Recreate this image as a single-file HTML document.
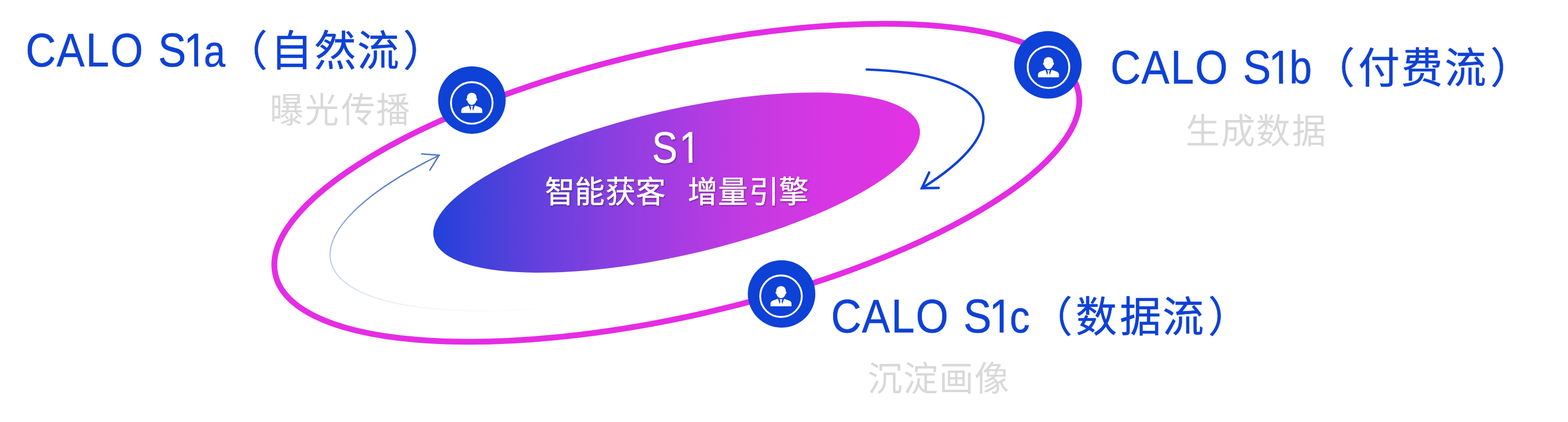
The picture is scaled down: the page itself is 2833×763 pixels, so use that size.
<!DOCTYPE html>
<html lang="zh-CN">
<head>
<meta charset="utf-8">
<title>CALO S1 智能获客 增量引擎</title>
<style>
html,body{margin:0;padding:0;background:#fff;}
body{width:2833px;height:763px;overflow:hidden;}
svg{display:block;}
text{font-family:"Liberation Sans", "Noto Sans CJK SC", sans-serif;white-space:pre;}
</style>
</head>
<body>
<svg width="2833" height="763" viewBox="0 0 2833 763">
<defs>
<linearGradient id="g1" gradientUnits="userSpaceOnUse" x1="783" y1="0" x2="1661" y2="0">
<stop offset="0" stop-color="#2141d9"/>
<stop offset="0.05" stop-color="#3241da"/>
<stop offset="0.2" stop-color="#6040dc"/>
<stop offset="0.35" stop-color="#853fe0"/>
<stop offset="0.5" stop-color="#a63ce1"/>
<stop offset="0.65" stop-color="#c43ae2"/>
<stop offset="0.8" stop-color="#d636e3"/>
<stop offset="0.95" stop-color="#df33e3"/>
<stop offset="1" stop-color="#e232e4"/>
</linearGradient>
<linearGradient id="g2" gradientUnits="userSpaceOnUse" x1="795" y1="280" x2="831" y2="581">
<stop offset="0" stop-color="#4d77ca" stop-opacity="1"/>
<stop offset="0.15" stop-color="#4d77ca" stop-opacity="0.95"/>
<stop offset="0.45" stop-color="#5a7cd0" stop-opacity="0.5"/>
<stop offset="0.7" stop-color="#6a80d8" stop-opacity="0.26"/>
<stop offset="0.85" stop-color="#7a80dc" stop-opacity="0.12"/>
<stop offset="1" stop-color="#8a80e0" stop-opacity="0"/>
</linearGradient>
<clipPath id="cp_t1l"><path clip-rule="evenodd" d="M0,0H2833V763H0Z M335.78,111.57H350.96V122.90H335.78Z M358.20,111.57H370.80V122.90H358.20Z"/></clipPath>
<clipPath id="cp_t2l"><path clip-rule="evenodd" d="M0,0H2833V763H0Z M2295.78,142.46H2310.96V153.80H2295.78Z M2318.20,142.46H2331.43V153.80H2318.20Z"/></clipPath>
<clipPath id="cp_t3l"><path clip-rule="evenodd" d="M0,0H2833V763H0Z M1790.93,592.46H1806.11V603.80H1790.93Z M1813.35,592.46H1826.58V603.80H1813.35Z"/></clipPath>
<clipPath id="cp_c1"><path clip-rule="evenodd" d="M0,0H2833V763H0Z M1230.57,286.61H1244.56V297.40H1230.57Z M1251.10,286.61H1263.15V297.40H1251.10Z"/></clipPath>
<filter id="ts" x="-10%" y="-10%" width="120%" height="130%">
<feDropShadow dx="1.2" dy="1.6" stdDeviation="1.1" flood-color="#000" flood-opacity="0.4"/>
</filter>
</defs>
<rect width="2833" height="763" fill="#fff"/>
<path d="M497.59,496.67 A744.04 240.62 -12.907 1 1 1948.07,164.27 A744.04 240.62 -12.907 1 1 497.59,496.67 Z" fill="none" stroke="#e52ce4" stroke-width="10.5"/>
<path d="M783.86,430.61 A450.0 130.9 -12.9 1 1 1661.14,229.69 A450.0 130.9 -12.9 1 1 783.86,430.61 Z" fill="url(#g1)"/>
<path d="M968.75,558.26 A632.19 185.73 -12.74 0 1 793.74,280.66" fill="none" stroke="url(#g2)" stroke-width="2.3" stroke-linecap="round"/>
<path d="M761.8,278.3 L793.3,280.6 L776.6,307.6" fill="none" stroke="#4d77ca" stroke-width="2.6" stroke-linecap="round" stroke-linejoin="miter"/>
<path d="M1565.85,125.60 A593.16 169.18 -13.13 0 1 1665.58,340.30" fill="none" stroke="#0e41d5" stroke-width="4.4" stroke-linecap="round"/>
<path d="M1678.8,311.9 L1665.6,340.3 L1696,339.7" fill="none" stroke="#0e41d5" stroke-width="4.4" stroke-linecap="round" stroke-linejoin="miter"/>
<circle cx="852.6" cy="180.9" r="61" fill="#0e41d5"/>
<g transform="translate(852.4 186.1)">
<circle r="37.6" fill="none" stroke="#fff" stroke-width="3.3"/>
<path fill="#fff" d="M0,-18.3 C5.2,-18.3 8.6,-14.6 8.6,-9.6 L8.6,-8.4 C9.6,-8.4 10,-7.4 9.8,-6.2 C9.6,-4.8 8.9,-4 8.1,-4 C7.2,0.2 4,3.6 0,3.6 C-4,3.6 -7.2,0.2 -8.1,-4 C-8.9,-4 -9.6,-4.8 -9.8,-6.2 C-10,-7.4 -9.6,-8.4 -8.6,-8.4 L-8.6,-9.6 C-8.6,-14.6 -5.2,-18.3 0,-18.3 Z"/>
<path fill="#fff" d="M-19,18.2 L-19,14 C-19,10.6 -17.2,8.7 -14.2,7.7 L-5.6,4.7 L-2,14.4 L-1.2,9 L-2.5,5.4 L2.5,5.4 L1.2,9 L2,14.4 L5.6,4.7 L14.2,7.7 C17.2,8.7 19,10.6 19,14 L19,18.2 Z"/>
</g>
<circle cx="1893.3" cy="117.3" r="61" fill="#0e41d5"/>
<g transform="translate(1894.4 121.6)">
<circle r="37.6" fill="none" stroke="#fff" stroke-width="3.3"/>
<path fill="#fff" d="M0,-18.3 C5.2,-18.3 8.6,-14.6 8.6,-9.6 L8.6,-8.4 C9.6,-8.4 10,-7.4 9.8,-6.2 C9.6,-4.8 8.9,-4 8.1,-4 C7.2,0.2 4,3.6 0,3.6 C-4,3.6 -7.2,0.2 -8.1,-4 C-8.9,-4 -9.6,-4.8 -9.8,-6.2 C-10,-7.4 -9.6,-8.4 -8.6,-8.4 L-8.6,-9.6 C-8.6,-14.6 -5.2,-18.3 0,-18.3 Z"/>
<path fill="#fff" d="M-19,18.2 L-19,14 C-19,10.6 -17.2,8.7 -14.2,7.7 L-5.6,4.7 L-2,14.4 L-1.2,9 L-2.5,5.4 L2.5,5.4 L1.2,9 L2,14.4 L5.6,4.7 L14.2,7.7 C17.2,8.7 19,10.6 19,14 L19,18.2 Z"/>
</g>
<circle cx="1412.1" cy="531.4" r="61" fill="#0e41d5"/>
<g transform="translate(1411.1 535.6)">
<circle r="37.6" fill="none" stroke="#fff" stroke-width="3.3"/>
<path fill="#fff" d="M0,-18.3 C5.2,-18.3 8.6,-14.6 8.6,-9.6 L8.6,-8.4 C9.6,-8.4 10,-7.4 9.8,-6.2 C9.6,-4.8 8.9,-4 8.1,-4 C7.2,0.2 4,3.6 0,3.6 C-4,3.6 -7.2,0.2 -8.1,-4 C-8.9,-4 -9.6,-4.8 -9.8,-6.2 C-10,-7.4 -9.6,-8.4 -8.6,-8.4 L-8.6,-9.6 C-8.6,-14.6 -5.2,-18.3 0,-18.3 Z"/>
<path fill="#fff" d="M-19,18.2 L-19,14 C-19,10.6 -17.2,8.7 -14.2,7.7 L-5.6,4.7 L-2,14.4 L-1.2,9 L-2.5,5.4 L2.5,5.4 L1.2,9 L2,14.4 L5.6,4.7 L14.2,7.7 C17.2,8.7 19,10.6 19,14 L19,18.2 Z"/>
</g>
<g clip-path="url(#cp_t1l)"><text transform="matrix(0.8832 0 0 0.9975 0 119.90)" x="52.45 115.78 175.59 225.79 292.70 323.46 375.99 417.09" y="0" font-size="86" font-weight="400" fill="#0e41d5" stroke="#0e41d5" stroke-width="0.6" stroke-linejoin="round">CALO S1<tspan font-size="79">a</tspan></text></g>
<text transform="matrix(0.9956 0 0 1.0028 0 118.53)" x="409.51 490.82 570.14 648.39 731.47" y="0" font-size="76" font-weight="400" fill="#0e41d5" stroke="#0e41d5" stroke-width="0.6" stroke-linejoin="round">（自然流）</text>
<g clip-path="url(#cp_t2l)"><text transform="matrix(0.8832 0 0 0.9992 0 150.80)" x="2271.61 2334.93 2394.74 2444.94 2511.85 2542.61 2595.14 2637.62" y="0" font-size="86" font-weight="400" fill="#0e41d5" stroke="#0e41d5" stroke-width="0.6" stroke-linejoin="round">CALO S1<tspan font-size="83">b</tspan></text></g>
<text transform="matrix(0.9851 0 0 1.0036 0 149.93)" x="2408.86 2491.04 2570.16 2649.76 2733.41" y="0" font-size="76" font-weight="400" fill="#0e41d5" stroke="#0e41d5" stroke-width="0.6" stroke-linejoin="round">（付费流）</text>
<g clip-path="url(#cp_t3l)"><text transform="matrix(0.8832 0 0 0.9992 0 600.80)" x="1700.00 1763.33 1823.14 1873.34 1940.25 1971.01 2023.54 2065.56" y="0" font-size="86" font-weight="400" fill="#0e41d5" stroke="#0e41d5" stroke-width="0.6" stroke-linejoin="round">CALO S1<tspan font-size="82">c</tspan></text></g>
<text transform="matrix(0.9799 0 0 1.0007 0 599.75)" x="1901.54 1983.40 2064.64 2143.60 2227.56" y="0" font-size="76" font-weight="400" fill="#0e41d5" stroke="#0e41d5" stroke-width="0.6" stroke-linejoin="round">（数据流）</text>
<text transform="matrix(0.9808 0 0 1.0158 0 221.22)" x="497.04 562.07 628.51 693.16" y="0" font-size="62" font-weight="400" fill="#d9d9d9">曝光传播</text>
<text transform="matrix(0.9952 0 0 1.0131 0 258.98)" x="2152.36 2216.67 2280.58 2345.44" y="0" font-size="62" font-weight="400" fill="#d9d9d9">生成数据</text>
<text transform="matrix(1.0122 0 0 1.0070 0 706.97)" x="1548.52 1612.54 1676.06 1739.32" y="0" font-size="62" font-weight="400" fill="#d9d9d9">沉淀画像</text>
<g filter="url(#ts)"><g clip-path="url(#cp_c1)"><text transform="matrix(0.8516 0 0 0.9776 0 294.40)" x="1383.15 1441.26" y="0" font-size="81" font-weight="400" fill="#fff" stroke="#fff" stroke-width="0.5" stroke-linejoin="round">S1</text></g></g>
<g filter="url(#ts)"><text transform="matrix(0.9821 0 0 0.9951 0 365.92)" x="1002.51 1057.56 1114.23 1169.78 1224.80 1265.29 1320.99 1378.29 1432.77" y="0" font-size="55" font-weight="400" fill="#fff" stroke="#fff" stroke-width="0.5" stroke-linejoin="round">智能获客 增量引擎</text></g>
</svg>
</body>
</html>
